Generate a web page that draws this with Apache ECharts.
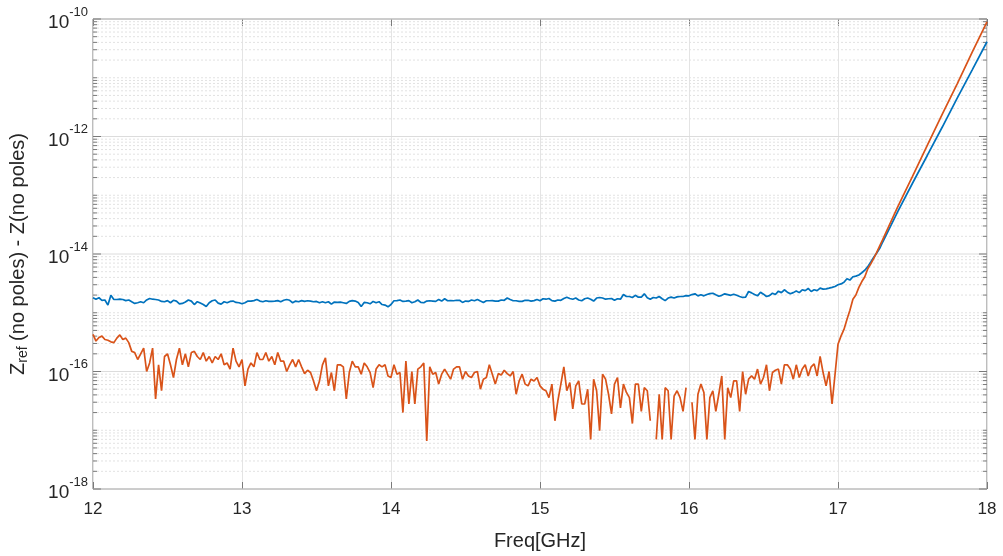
<!DOCTYPE html>
<html>
<head>
<meta charset="utf-8">
<script src="https://cdn.jsdelivr.net/npm/echarts@6/dist/echarts.min.js"></script>
<style>
html,body{margin:0;padding:0;background:#fff;}
#chart{width:1003px;height:556px;}
</style>
</head>
<body>
<div id="chart"></div>
<script>
// ---- data ----
const freqStart = 12;       // GHz, first sweep point
const freqStep = 0.02;      // GHz, sweep spacing
const freqTail = [17.4, 17.5, 17.6, 17.7, 17.8, 17.9, 18.0];

const blueSweep = [
1.8e-15,1.7e-15,1.8e-15,1.63e-15,1.65e-15,1.35e-15,1.98e-15,1.68e-15,1.68e-15,1.7e-15,
1.68e-15,1.61e-15,1.65e-15,1.54e-15,1.44e-15,1.48e-15,1.54e-15,1.48e-15,1.65e-15,1.75e-15,
1.7e-15,1.68e-15,1.65e-15,1.56e-15,1.54e-15,1.61e-15,1.48e-15,1.63e-15,1.58e-15,1.42e-15,
1.44e-15,1.52e-15,1.65e-15,1.58e-15,1.38e-15,1.54e-15,1.46e-15,1.38e-15,1.28e-15,1.48e-15,
1.6e-15,1.65e-15,1.46e-15,1.4e-15,1.54e-15,1.48e-15,1.56e-15,1.58e-15,1.5e-15,1.48e-15,
1.42e-15,1.48e-15,1.58e-15,1.58e-15,1.61e-15,1.68e-15,1.58e-15,1.54e-15,1.6e-15,1.56e-15,
1.56e-15,1.58e-15,1.61e-15,1.54e-15,1.63e-15,1.68e-15,1.63e-15,1.48e-15,1.58e-15,1.54e-15,
1.61e-15,1.56e-15,1.6e-15,1.58e-15,1.54e-15,1.56e-15,1.48e-15,1.54e-15,1.48e-15,1.54e-15,
1.4e-15,1.52e-15,1.5e-15,1.52e-15,1.48e-15,1.44e-15,1.56e-15,1.61e-15,1.58e-15,1.5e-15,
1.28e-15,1.5e-15,1.48e-15,1.42e-15,1.56e-15,1.48e-15,1.54e-15,1.38e-15,1.35e-15,1.26e-15,
1.38e-15,1.6e-15,1.61e-15,1.65e-15,1.56e-15,1.58e-15,1.61e-15,1.48e-15,1.54e-15,1.65e-15,
1.5e-15,1.48e-15,1.58e-15,1.6e-15,1.58e-15,1.56e-15,1.68e-15,1.58e-15,1.73e-15,1.6e-15,
1.61e-15,1.6e-15,1.63e-15,1.63e-15,1.5e-15,1.58e-15,1.56e-15,1.65e-15,1.6e-15,1.68e-15,
1.58e-15,1.5e-15,1.6e-15,1.6e-15,1.61e-15,1.58e-15,1.58e-15,1.65e-15,1.63e-15,1.78e-15,
1.68e-15,1.6e-15,1.6e-15,1.56e-15,1.56e-15,1.63e-15,1.63e-15,1.58e-15,1.61e-15,1.68e-15,
1.6e-15,1.73e-15,1.7e-15,1.75e-15,1.61e-15,1.58e-15,1.65e-15,1.63e-15,1.75e-15,1.84e-15,
1.75e-15,1.7e-15,1.78e-15,1.65e-15,1.6e-15,1.73e-15,1.78e-15,1.7e-15,1.58e-15,1.78e-15,
1.82e-15,1.78e-15,1.7e-15,1.73e-15,1.75e-15,1.63e-15,1.73e-15,1.7e-15,2.04e-15,1.89e-15,
1.89e-15,1.82e-15,1.98e-15,1.84e-15,1.84e-15,2.1e-15,1.8e-15,1.7e-15,1.82e-15,1.78e-15,
1.89e-15,1.73e-15,1.61e-15,1.78e-15,1.84e-15,1.78e-15,1.86e-15,1.89e-15,1.89e-15,1.96e-15,
1.94e-15,2.04e-15,2.1e-15,1.94e-15,2.02e-15,1.94e-15,2.04e-15,2.12e-15,2.15e-15,2.02e-15,
1.91e-15,1.98e-15,2.1e-15,2.04e-15,1.98e-15,2.07e-15,1.98e-15,1.89e-15,1.82e-15,1.84e-15,
2.3e-15,2.18e-15,2.04e-15,1.94e-15,2.24e-15,2.07e-15,1.89e-15,1.96e-15,2.15e-15,2.04e-15,
2.33e-15,2.2e-15,2.46e-15,2.24e-15,2.1e-15,2.2e-15,2.35e-15,2.2e-15,2.46e-15,2.38e-15,
2.59e-15,2.3e-15,2.46e-15,2.38e-15,2.62e-15,2.52e-15,2.55e-15,2.62e-15,2.7e-15,2.8e-15,
3.0e-15,3.1e-15,3.3e-15,3.8e-15,3.6e-15,4.1e-15,4.2e-15,4.4e-15,4.8e-15,5.3e-15,
6.1e-15,7.3e-15,8.8e-15,1.04e-14,1.25e-14,1.6e-14
];
const blueTail = [5.2e-14, 1.6e-13, 4.8e-13, 1.45e-12, 4.5e-12, 1.35e-11, 4.1e-11];

const orangeSweep = [
4.3e-16,3.3e-16,3.8e-16,4.0e-16,3.5e-16,3.4e-16,3.2e-16,3.1e-16,3.7e-16,4.2e-16,
3.5e-16,3.7e-16,3.1e-16,2.2e-16,2.1e-16,1.6e-16,2.0e-16,2.5e-16,1.0e-16,1.4e-16,
2.5e-16,3.4e-17,1.3e-16,4.7e-17,1.8e-16,2.0e-16,1.3e-16,7.9e-17,1.6e-16,2.5e-16,
1.3e-16,2.0e-16,1.2e-16,2.1e-16,2.2e-16,1.8e-16,1.6e-16,2.1e-16,1.5e-16,1.8e-16,
1.4e-16,1.8e-16,1.6e-16,2.0e-16,1.3e-16,1.4e-16,1.1e-16,2.5e-16,1.5e-16,1.2e-16,
1.6e-16,5.7e-17,1.1e-16,1.4e-16,1.2e-16,2.1e-16,1.6e-16,1.6e-16,2.1e-16,1.5e-16,
1.8e-16,1.3e-16,2.1e-16,1.5e-16,1.5e-16,1.0e-16,1.3e-16,1.6e-16,1.2e-16,1.6e-16,
1.2e-16,9.2e-17,1.05e-16,9.6e-17,6.9e-17,4.7e-17,6.9e-17,1.3e-16,1.7e-16,5.7e-17,
9.6e-17,4.7e-17,1.3e-16,1.3e-16,1.2e-16,3.4e-17,9.6e-17,1.5e-16,1.2e-16,1.2e-16,
9.0e-17,1.4e-16,1.2e-16,9.6e-17,5.3e-17,1.1e-16,1.3e-16,1.2e-16,1.3e-16,8.4e-17,
7.9e-17,1.3e-16,9.0e-17,9.6e-17,2.0e-17,1.5e-16,2.8e-17,1.0e-16,2.8e-17,1.1e-16,
1.2e-16,1.4e-16,6.6e-18,1.2e-16,9.0e-17,9.6e-17,6.1e-17,9.0e-17,1.1e-16,9.0e-17,
7.4e-17,1.1e-16,1.2e-16,1.2e-16,7.4e-17,1.0e-16,8.4e-17,7.9e-17,9.6e-17,1.0e-16,
5.0e-17,7.4e-17,7.9e-17,1.3e-16,9.0e-17,6.1e-17,9.2e-17,8.7e-17,1.05e-16,9.2e-17,
8.4e-17,1.0e-16,4.1e-17,6.9e-17,9.0e-17,6.1e-17,5.7e-17,7.4e-17,6.9e-17,7.9e-17,
5.7e-17,5.0e-17,4.7e-17,3.6e-17,6.1e-17,1.45e-17,3.2e-17,6.1e-17,1.2e-16,4.7e-17,
6.5e-17,2.3e-17,5.7e-17,6.9e-17,2.8e-17,2.8e-17,5.0e-17,7e-18,7.4e-17,4.7e-17,
9.8e-18,9.0e-17,7.4e-17,4.1e-17,1.9e-17,6.1e-17,7.9e-17,2.4e-17,6.1e-17,4.4e-17,
3.6e-17,1.3e-17,6.1e-17,6.1e-17,2.1e-17,5.3e-17,4.7e-17,1.45e-17,null,7e-18,
4.1e-17,7e-18,5.3e-17,4.7e-17,7e-18,3.8e-17,4.7e-17,3.6e-17,2.1e-17,5.3e-17,
null,3.0e-17,7e-18,4.1e-17,6.1e-17,4.4e-17,7e-18,3.6e-17,4.7e-17,2.1e-17,
4.1e-17,8.4e-17,7e-18,5.3e-17,3.6e-17,6.9e-17,6.9e-17,2.1e-17,1.0e-16,4.1e-17,
7.4e-17,8.4e-17,7.4e-17,1.1e-16,6.1e-17,7.9e-17,1.3e-16,4.7e-17,9.6e-17,1.05e-16,
1.1e-16,6.1e-17,1.3e-16,1.3e-16,1.1e-16,7.4e-17,1.3e-16,7.9e-17,1.1e-16,1.3e-16,
8.4e-17,1.2e-16,1.35e-16,8.4e-17,1.8e-16,9.6e-17,5.7e-17,1.0e-16,2.8e-17,8.9e-17,
2.9e-16,4.0e-16,5.2e-16,7.7e-16,1.1e-15,1.7e-15,2.0e-15,2.7e-15,3.4e-15,4.1e-15,
5.6e-15,6.8e-15,8.4e-15,1.07e-14,1.38e-14,1.75e-14
];
const orangeTail = [6.3e-14, 2.1e-13, 7.1e-13, 2.4e-12, 7.9e-12, 2.7e-11, 8.9e-11];

const xTicks = [12, 13, 14, 15, 16, 17, 18];
const yDecadeMin = -18, yDecadeMax = -10;

// ---- build ----
function pairs(sweep, tail) {
  const out = sweep.map((v, i) => [+(freqStart + freqStep * i).toFixed(2), v]);
  tail.forEach((v, i) => out.push([freqTail[i], v]));
  return out;
}
const bluePts = pairs(blueSweep, blueTail);
const orangePts = pairs(orangeSweep, orangeTail);

// log grid levels: decades (major at even exponents) and 2..9 minors
const gridLevels = [];
for (let e = yDecadeMin; e <= yDecadeMax; e++) {
  gridLevels.push([xTicks[0], Math.pow(10, e), (e % 2 === 0) ? 1 : 0]);
  if (e < yDecadeMax) {
    for (let m = 2; m <= 9; m++) gridLevels.push([xTicks[0], m * Math.pow(10, e), 0]);
  }
}

const FONT = '"Liberation Sans", Arial, Helvetica, sans-serif';
const TXT = '#262626';
const AX = '#7a7a7a';

const chart = echarts.init(document.getElementById('chart'), null, {renderer: 'canvas'});
chart.setOption({
  animation: false,
  backgroundColor: '#fff',
  grid: {left: 92, right: 16, top: 19, bottom: 66, show: true, borderColor: AX, borderWidth: 1},
  xAxis: [{
    type: 'value', min: xTicks[0], max: xTicks[xTicks.length - 1], interval: 1, position: 'bottom',
    axisLine: {show: false},
    axisTick: {show: true, inside: true, length: 7, lineStyle: {color: AX}},
    axisLabel: {color: TXT, fontSize: 17, fontFamily: FONT, margin: 12},
    splitLine: {show: true, lineStyle: {color: '#e4e4e4', width: 1}},
    name: 'Freq[GHz]', nameLocation: 'middle', nameGap: 42,
    nameTextStyle: {color: TXT, fontSize: 20, fontFamily: FONT}
  }, {
    type: 'value', min: xTicks[0], max: xTicks[xTicks.length - 1], interval: 1, position: 'top',
    axisLine: {show: false},
    axisTick: {show: true, inside: true, length: 7, lineStyle: {color: AX}},
    axisLabel: {show: false}, splitLine: {show: false}
  }],
  yAxis: [{
    type: 'log', logBase: 10, min: Math.pow(10, yDecadeMin), max: Math.pow(10, yDecadeMax),
    axisLine: {show: false}, axisTick: {show: false}, splitLine: {show: false}, minorTick: {show: false},
    axisLabel: {
      margin: 5, color: TXT, fontFamily: FONT,
      formatter: function (v) {
        const e = Math.round(Math.log10(v));
        if (e % 2 !== 0) return '';
        return '{b|10}{s|' + e + '}';
      },
      rich: {
        b: {fontSize: 19, color: TXT, fontFamily: FONT, padding: [8, 0, 0, 0]},
        s: {fontSize: 13, color: TXT, fontFamily: FONT, padding: [0, 0, 14, 0]}
      }
    },
    name: '{n|Z}{sub|ref}{n| (no poles) - Z(no poles)}',
    nameLocation: 'middle', nameGap: 63,
    nameTextStyle: {
      color: TXT, fontSize: 20, fontFamily: FONT,
      rich: {
        n: {fontSize: 20, color: TXT, fontFamily: FONT},
        sub: {fontSize: 14, color: TXT, fontFamily: FONT, padding: [10, 0, 0, 0]}
      }
    }
  }],
  series: [{
    type: 'custom', silent: true, z: 1, clip: false,
    data: gridLevels,
    renderItem: function (params, api) {
      const lv = api.value(1), major = api.value(2) === 1;
      const p0 = api.coord([xTicks[0], lv]);
      const p1 = api.coord([xTicks[xTicks.length - 1], lv]);
      const len = major ? 8 : 4;
      return {
        type: 'group',
        children: [{
          type: 'line',
          shape: {x1: p0[0], y1: p0[1], x2: p1[0], y2: p1[1]},
          style: major ? {stroke: '#dcdcdc', lineWidth: 1}
                       : {stroke: '#e2e2e2', lineWidth: 1, lineDash: [2, 2]}
        }, {
          type: 'line',
          shape: {x1: p0[0], y1: p0[1], x2: p0[0] + len, y2: p0[1]},
          style: {stroke: AX, lineWidth: 1}
        }, {
          type: 'line',
          shape: {x1: p1[0] - len, y1: p1[1], x2: p1[0], y2: p1[1]},
          style: {stroke: AX, lineWidth: 1}
        }]
      };
    }
  }, {
    name: 'blue', type: 'line', data: bluePts, showSymbol: false, z: 3,
    connectNulls: false,
    lineStyle: {color: '#0072BD', width: 1.7}, itemStyle: {color: '#0072BD'}
  }, {
    name: 'orange', type: 'line', data: orangePts, showSymbol: false, z: 4,
    connectNulls: false,
    lineStyle: {color: '#D95319', width: 1.7}, itemStyle: {color: '#D95319'}
  }]
});
</script>
</body>
</html>
